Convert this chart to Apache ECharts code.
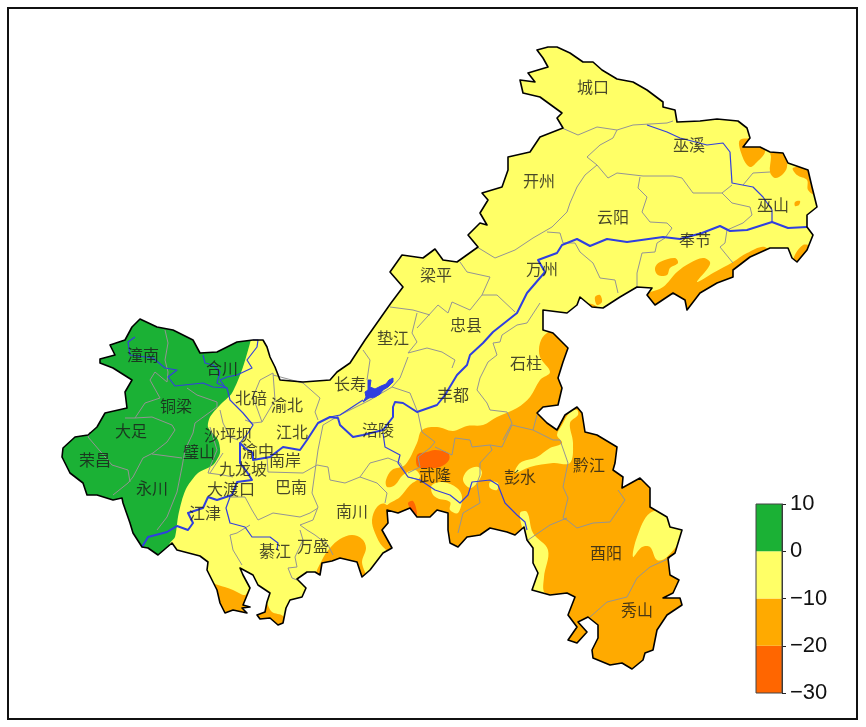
<!DOCTYPE html>
<html lang="zh">
<head>
<meta charset="utf-8"/>
<title>重庆</title>
<script src="https://cdn.jsdelivr.net/npm/echarts@6/dist/echarts.min.js"></script>
<style>html,body{margin:0;background:#fff}#container{width:866px;height:727px}</style>
</head>
<body>
<div id="container"></div>
<script>
// colour bar
var levels = [-30, -20, -10, 0, 10];
var levelColors = ['#FF6600', '#FFAA00', '#FFFF66', '#1BB135'];

// map geometry, in map units
var outline = [[537,50],[548,47],[557,47],[570,53],[583,62],[593,62],[602,70],[617,79],[633,82],[647,90],[663,102],[663,107],[675,110],[677,122],[700,121],[717,119],[738,121],[747,128],[750,138],[743,147],[760,147],[770,152],[783,153],[788,163],[808,170],[812,187],[817,207],[807,215],[807,227],[813,235],[807,250],[797,262],[792,258],[788,248],[770,248],[750,257],[733,270],[733,277],[717,283],[700,293],[687,310],[685,300],[673,293],[655,305],[647,295],[652,288],[637,287],[620,297],[603,308],[592,307],[580,297],[577,305],[567,313],[543,310],[543,330],[553,333],[568,348],[563,362],[558,378],[562,388],[558,405],[543,407],[537,413],[547,423],[557,430],[565,415],[577,407],[582,413],[585,432],[597,435],[617,447],[615,463],[613,470],[623,477],[622,488],[640,478],[650,488],[650,507],[667,517],[670,527],[682,530],[675,553],[668,558],[670,575],[679,580],[673,593],[663,598],[680,598],[682,605],[667,615],[657,630],[653,650],[645,653],[643,660],[632,669],[622,663],[610,665],[593,658],[592,650],[598,638],[598,625],[588,617],[578,622],[587,632],[577,643],[568,640],[577,627],[568,615],[575,597],[567,593],[550,595],[532,590],[538,573],[533,563],[533,548],[527,540],[524,527],[515,535],[507,532],[490,528],[480,535],[467,537],[458,547],[450,543],[448,530],[448,513],[437,510],[430,517],[417,517],[410,508],[398,513],[387,510],[388,523],[382,530],[392,548],[383,553],[370,570],[362,577],[357,562],[340,558],[332,561],[322,563],[320,575],[315,572],[307,572],[297,579],[306,588],[302,597],[290,600],[286,608],[283,623],[278,625],[270,618],[260,619],[257,615],[265,612],[267,602],[270,593],[258,585],[253,575],[240,568],[243,575],[250,588],[243,605],[250,607],[242,608],[247,613],[233,610],[225,613],[220,603],[217,590],[212,580],[207,570],[208,562],[200,556],[177,550],[172,543],[158,555],[148,548],[142,547],[133,533],[130,523],[123,503],[122,498],[113,500],[97,495],[87,495],[83,483],[70,473],[62,457],[63,448],[75,437],[88,435],[97,427],[105,413],[127,408],[125,392],[132,380],[113,368],[100,363],[100,359],[115,355],[110,345],[125,340],[132,327],[140,319],[157,327],[173,330],[193,340],[200,353],[217,352],[237,342],[253,340],[263,340],[267,347],[270,357],[275,367],[280,380],[303,382],[330,380],[337,372],[350,363],[365,340],[391,303],[403,287],[390,272],[402,255],[423,258],[435,249],[443,260],[457,262],[478,247],[468,235],[480,223],[487,225],[480,213],[488,200],[482,193],[502,187],[508,170],[508,157],[530,152],[540,137],[563,128],[557,118],[562,113],[540,97],[523,93],[520,80],[535,82],[528,73],[548,67],[543,58]];

// filled contours, clipped to the outline
var greenAreas = [[[253,330],[243,367],[232,393],[220,405],[210,417],[208,427],[218,440],[220,453],[213,465],[198,473],[187,487],[182,500],[178,517],[175,537],[170,543],[160,565],[40,565],[40,310],[253,310]]];
var orangeAreas = [
  [[547,333],[540,343],[540,357],[550,372],[540,380],[530,397],[517,408],[497,417],[483,425],[467,426],[453,431],[437,427],[422,430],[417,443],[405,465],[392,470],[386,480],[387,487],[395,485],[403,475],[415,470],[420,477],[410,485],[400,497],[386,507],[384,530],[430,600],[700,700],[720,500],[600,340],[570,325]],
  [[385,504],[377,507],[372,520],[375,533],[383,547],[393,552],[400,520]],
  [[317,577],[322,560],[330,548],[340,539],[352,535],[362,539],[366,548],[362,562],[366,580],[350,590]],
  [[208,583],[218,585],[233,590],[245,595],[250,588],[262,625],[212,625]],
  [[265,602],[272,612],[283,616],[290,630],[255,628],[254,612]],
  [[740,140],[762,142],[765,152],[757,162],[750,167],[743,158]],
  [[770,148],[785,150],[787,167],[782,175],[775,178],[770,172],[771,157]],
  [[793,168],[812,168],[816,195],[808,190],[807,180],[797,175]],
  [[795,202],[800,201],[799,205],[795,206]],
  [[793,260],[803,245],[812,248],[797,268]],
  [[640,298],[663,287],[677,272],[690,263],[703,258],[710,262],[708,268],[697,282],[713,273],[733,262],[747,253],[765,247],[772,262],[720,320],[640,320]],
  [[655,268],[660,262],[675,258],[678,263],[670,268],[667,275],[658,275]],
  [[595,297],[600,295],[602,302],[597,305]],
  [[588,304],[596,306],[602,312],[590,314]]
];
var yellowIslands = [
  [[577,410],[570,412],[562,425],[557,435],[562,443],[550,448],[537,457],[520,463],[515,473],[530,467],[553,463],[570,463],[573,443],[570,423],[578,415]],
  [[463,480],[468,470],[478,467],[482,473],[477,483],[470,488]],
  [[490,482],[498,483],[497,490],[490,488]],
  [[432,485],[443,482],[457,488],[462,497],[458,513],[450,510],[450,502],[437,498],[432,493]],
  [[520,513],[527,512],[533,533],[548,550],[544,577],[545,593],[563,594],[547,600],[528,593],[523,533]],
  [[650,513],[637,537],[633,557],[642,547],[650,547],[657,560],[667,557],[685,530],[670,513]]
];
var redAreas = [
  [[416,460],[418,454],[427,452],[435,450],[448,453],[449,460],[440,467],[427,468],[418,467]],
  [[408,503],[413,501],[417,513],[415,517],[410,508]]
];

var districts = [
  [[562,128],[578,135],[597,127],[617,130],[633,125],[667,123],[673,121]],
  [[617,130],[613,138],[600,145],[587,157],[597,165],[585,175],[577,187],[570,203],[567,212],[552,227],[533,238],[515,250],[495,258],[477,247]],
  [[597,165],[608,178],[617,173],[643,176],[673,176],[682,178],[693,193],[722,193],[732,185]],
  [[743,185],[753,173],[770,172]],
  [[722,193],[732,203],[750,207],[752,215],[743,223],[727,230],[725,243],[720,247],[733,263]],
  [[640,177],[638,188],[647,197],[642,212],[650,222],[667,223],[672,228],[665,238],[657,243],[655,252],[642,253],[637,273],[637,287]],
  [[547,232],[560,233],[563,243],[575,243],[580,252],[593,263],[600,278],[615,280],[618,293]],
  [[460,262],[467,272],[490,277],[482,295],[497,295],[515,312]],
  [[482,295],[470,310],[452,302],[448,313],[438,305],[417,328]],
  [[390,307],[413,310],[430,315]],
  [[417,313],[412,333],[417,342],[408,353],[427,348],[442,352],[455,360],[452,368]],
  [[540,303],[527,323],[517,325],[502,335],[500,342],[493,343],[497,355],[488,362],[480,378],[477,390],[487,403],[490,410],[507,412],[512,423],[503,440]],
  [[408,357],[400,378],[392,387],[410,393],[418,413],[422,432]],
  [[363,350],[370,360],[367,380]],
  [[392,387],[370,400],[340,415],[323,425],[318,450],[312,493],[318,507],[313,520],[300,525],[307,530],[315,535],[328,545],[333,555]],
  [[317,465],[328,467],[330,480],[345,483],[360,477],[377,483],[387,493],[385,503]],
  [[360,477],[370,463],[388,458],[400,463],[408,477],[420,480]],
  [[422,432],[435,442],[430,448],[418,457],[420,467],[408,473]],
  [[435,447],[452,455],[455,438],[470,440],[472,447],[490,445],[492,450],[480,463],[480,475],[477,483],[480,503],[463,513],[458,533]],
  [[490,445],[502,447],[512,425],[520,427],[533,430],[537,415]],
  [[533,430],[553,440],[560,440],[568,463],[563,487],[568,498],[563,518],[567,520],[577,528],[593,523],[610,522],[625,500],[618,490]],
  [[567,518],[550,525],[528,540]],
  [[670,558],[650,567],[637,578],[627,597],[607,602],[590,617]],
  [[165,330],[168,343],[165,360],[168,372],[167,382],[155,372],[150,380],[160,398],[145,403],[135,418],[125,418]],
  [[135,418],[152,417],[172,425],[175,430],[167,442],[153,453],[143,458],[133,477],[128,483],[113,495]],
  [[187,388],[197,395],[217,402],[217,407],[195,423],[193,433],[185,450],[182,467],[177,492],[167,517],[157,530]],
  [[152,454],[182,458]],
  [[90,432],[88,437],[112,465],[128,470],[130,482]],
  [[210,427],[217,450],[210,467],[208,473],[223,475],[233,477]],
  [[273,373],[260,380],[253,397],[262,422],[253,423],[245,420]],
  [[273,373],[275,400],[262,422]],
  [[273,375],[303,383],[320,398],[315,412],[318,420]],
  [[220,410],[223,423],[230,437],[238,440]],
  [[223,453],[210,473]],
  [[230,497],[245,497],[252,510],[258,520],[273,513],[300,517],[310,513],[318,508]],
  [[267,457],[268,472],[303,473],[317,465]],
  [[300,530],[303,540],[295,557],[297,567],[288,568],[292,578],[297,580]],
  [[250,525],[237,533],[230,535],[233,550],[242,565]]
];

var mainRiver = [[142,547],[148,537],[167,532],[177,526],[188,530],[193,523],[188,513],[203,508],[208,497],[217,500],[232,495],[237,482],[252,480],[247,472],[240,463],[240,443],[245,448],[253,453],[253,460],[270,457],[283,447],[300,450],[307,440],[318,423],[330,417],[338,418],[340,425],[353,437],[363,435],[383,430],[393,417],[393,407],[395,402],[403,403],[417,412],[437,405],[445,395],[457,375],[467,365],[470,355],[483,343],[493,332],[517,313],[527,293],[545,272],[538,260],[557,253],[562,245],[577,239],[590,246],[607,239],[627,242],[663,237],[680,239],[702,233],[720,226],[730,231],[747,230],[772,222],[788,228],[807,227]];
var sideRivers = [
  [[383,433],[385,447],[400,455],[398,463],[408,477],[420,480],[435,490],[450,495],[460,503],[468,495],[472,482],[490,480],[498,485],[505,503],[517,515],[525,522],[527,530]],
  [[230,497],[226,508],[230,523],[245,527],[252,537],[270,537],[278,543],[277,550]],
  [[135,337],[128,342],[130,355],[153,358],[165,368],[177,370],[168,377],[175,386],[203,383],[213,387],[227,388],[230,400],[243,413],[253,425],[248,433],[240,443]],
  [[253,340],[258,340],[257,347],[247,360],[252,368],[237,375],[227,377],[220,380],[225,387]],
  [[203,355],[205,363],[213,365],[220,372],[217,383],[227,388]],
  [[647,125],[667,132],[680,138],[707,145],[723,143],[730,152],[732,183],[753,187],[763,197],[772,210],[772,222]],
  [[363,400],[340,415],[330,417]]
];
var lake = [[363,402],[366,397],[365,392],[368,390],[368,380],[371,380],[370,387],[375,389],[381,386],[386,384],[389,380],[393,378],[393,382],[388,387],[383,390],[380,394],[375,397],[369,398]];

var cityNames = ['城口','巫溪','开州','云阳','巫山','奉节','梁平','万州','垫江','忠县','石柱','潼南','合川','长寿','丰都','铜梁','北碚','渝北','大足','沙坪坝','江北','涪陵','璧山','渝中','南岸','荣昌','九龙坡','武隆','彭水','黔江','永川','大渡口','巴南','江津','南川','万盛','綦江','酉阳','秀山'];
var cityX = [593,689,539,613,773,695,436,542,393,466,526,143,222,350,453,176,251,287,131,228,292,378,199,258,285,95,243,435,520,589,152,231,291,205,352,313,275,606,637];
var cityY = [87,145,181,217,205,240,275,269,338,325,363,355,368,384,395,406,398,405,431,435,432,430,452,451,460,460,469,475,477,465,488,489,487,513,511,546,551,553,610];

function toPixels(api, pts) {
  return pts.map(function (p) { return api.coord(p); });
}

// one custom series holding a list of filled areas, clipped to the outline
function areaSeries(list, color, smooth) {
  return {
    type: 'custom', xAxisIndex: 0, yAxisIndex: 0, animation: false, silent: true,
    data: list.map(function (d, i) { return [i]; }),
    renderItem: function (params, api) {
      return {
        type: 'polygon',
        shape: { points: toPixels(api, list[params.dataIndex]), smooth: smooth },
        style: { fill: color, stroke: null },
        clipPath: { type: 'polygon', shape: { points: toPixels(api, outline) } }
      };
    }
  };
}

function lineSeries(list, color, width, closed) {
  return {
    type: 'custom', xAxisIndex: 0, yAxisIndex: 0, animation: false, silent: true,
    data: list.map(function (d, i) { return [i]; }),
    renderItem: function (params, api) {
      return {
        type: closed ? 'polygon' : 'polyline',
        shape: { points: toPixels(api, list[params.dataIndex]) },
        style: { fill: null, stroke: color, lineWidth: width, lineJoin: 'round' }
      };
    }
  };
}

var myChart = echarts.init(document.getElementById('container'), null, { renderer: 'canvas' });
var option = {
  animation: false,
  grid: [
    { left: 8, top: 8, width: 849, height: 711, show: true, borderColor: '#111', borderWidth: 2, backgroundColor: '#fff' },
    { left: 756, top: 504, width: 26, height: 189 }
  ],
  xAxis: [
    { type: 'value', min: 8, max: 857, show: false, gridIndex: 0 },
    { type: 'value', min: 0, max: 1, show: false, gridIndex: 1 }
  ],
  yAxis: [
    { type: 'value', min: 8, max: 719, inverse: true, show: false, gridIndex: 0 },
    {
      type: 'value', gridIndex: 1, position: 'right', min: levels[0], max: levels[levels.length - 1], interval: 10,
      splitLine: { show: false },
      axisLine: { show: true, onZero: false, lineStyle: { color: '#333', width: 1 } },
      axisTick: { show: true, length: 4, lineStyle: { color: '#222', width: 1 } },
      axisLabel: {
        margin: 8, color: '#111', fontFamily: 'Liberation Sans', fontSize: 22, padding: [3, 0, 0, 0],
        formatter: function (v) { return String(v).replace('-', '\u2212'); }
      }
    }
  ],
  series: [
    areaSeries([outline], levelColors[2], 0),
    areaSeries(orangeAreas, levelColors[1], 0.35),
    areaSeries(yellowIslands, levelColors[2], 0.35),
    areaSeries(redAreas, levelColors[0], 0.35),
    areaSeries(greenAreas, levelColors[3], 0.25),
    lineSeries(districts, '#949494', 1),
    lineSeries(sideRivers, '#3340dd', 1.2),
    lineSeries([mainRiver], '#2f3fe0', 2),
    {
      type: 'custom', xAxisIndex: 0, yAxisIndex: 0, animation: false, silent: true, data: [[0]],
      renderItem: function (params, api) {
        return { type: 'polygon', shape: { points: toPixels(api, lake) }, style: { fill: '#2f3fe0', stroke: '#2f3fe0', lineWidth: 1 } };
      }
    },
    lineSeries([outline], '#000', 1.6, true),
    {
      type: 'scatter', xAxisIndex: 0, yAxisIndex: 0, symbolSize: 0, silent: true,
      data: cityNames.map(function (n, i) { return { name: n, value: [cityX[i], cityY[i]] }; }),
      label: {
        show: true, position: 'inside', formatter: '{b}', color: '#1a1a1a',
        fontFamily: 'Noto Sans CJK SC', fontSize: 16
      }
    },
    {
      type: 'custom', xAxisIndex: 1, yAxisIndex: 1, animation: false, silent: true,
      data: levelColors.map(function (c, i) { return [i, levels[i], levels[i + 1]]; }),
      renderItem: function (params, api) {
        var a = api.coord([0, api.value(2)]);
        var b = api.coord([1, api.value(1)]);
        return {
          type: 'rect',
          shape: { x: a[0], y: a[1], width: b[0] - a[0], height: b[1] - a[1] },
          style: { fill: levelColors[params.dataIndex], stroke: null }
        };
      },
      z: 1
    },
    {
      type: 'custom', xAxisIndex: 1, yAxisIndex: 1, animation: false, silent: true, data: [[0]],
      renderItem: function (params, api) {
        var a = api.coord([0, levels[levels.length - 1]]);
        var b = api.coord([1, levels[0]]);
        return {
          type: 'rect',
          shape: { x: a[0], y: a[1], width: b[0] - a[0], height: b[1] - a[1] },
          style: { fill: null, stroke: '#444', lineWidth: 1 }
        };
      },
      z: 3
    }
  ]
};
myChart.setOption(option);
</script>
</body>
</html>
